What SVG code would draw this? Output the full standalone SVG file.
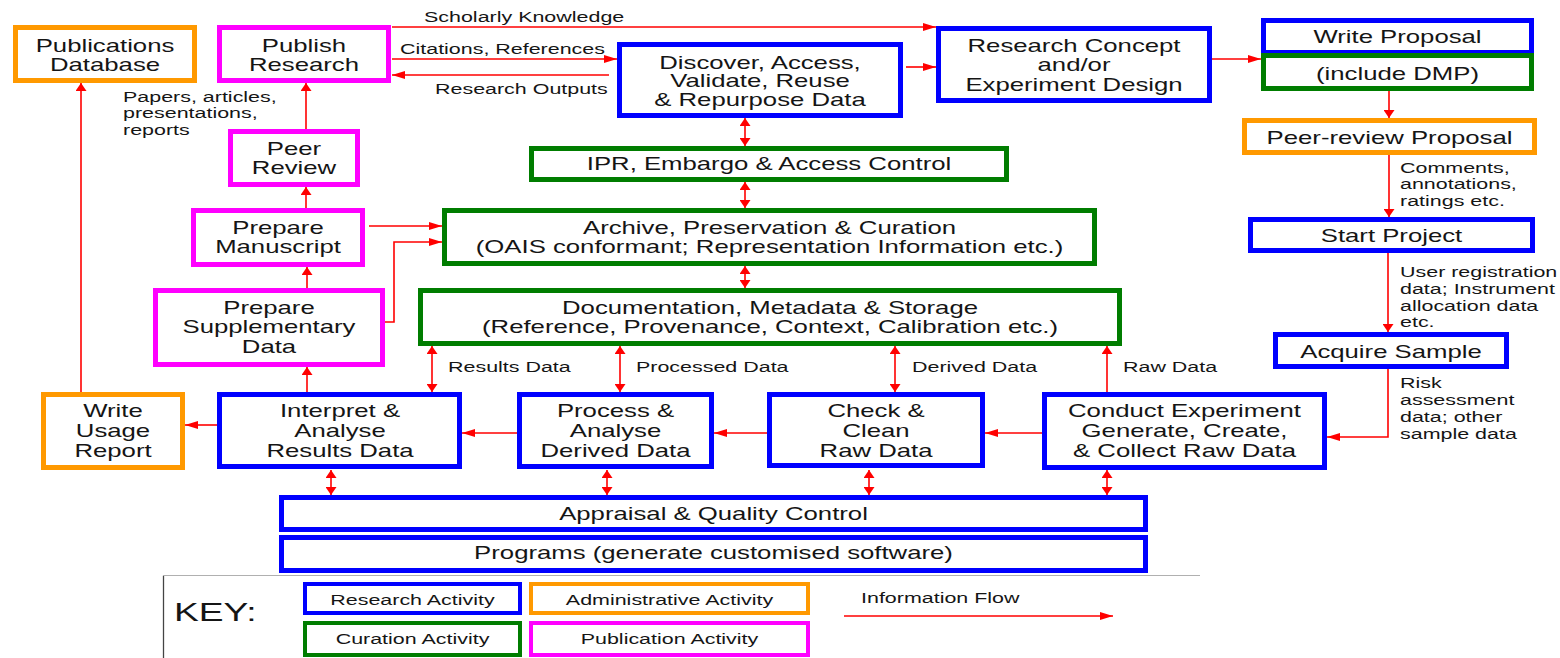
<svg xmlns="http://www.w3.org/2000/svg" width="1560" height="658" viewBox="0 0 1560 658">
<style>
.box{fill:#fff;stroke-width:5}
.kbox{fill:#fff;stroke-width:4}
.b{stroke:#0000ff}.g{stroke:#007d00}.m{stroke:#ff00ff}.o{stroke:#ff9900}
.t{font-family:"Liberation Sans",Arial,sans-serif;font-size:18px;fill:#151515;text-anchor:middle}
.l{font-family:"Liberation Sans",Arial,sans-serif;font-size:15px;fill:#151515}
.lc{font-family:"Liberation Sans",Arial,sans-serif;font-size:15px;fill:#151515;text-anchor:middle}
.c{fill:none;stroke:#ff0000;stroke-width:1.6}
.h{marker-end:url(#ah)}
.v{marker-end:url(#av)}
.hh{marker-start:url(#ah);marker-end:url(#ah)}
.vv{marker-start:url(#av);marker-end:url(#av)}
</style>
<defs>
<marker id="ah" viewBox="0 0 13 8" refX="13" refY="4" markerWidth="13" markerHeight="8" markerUnits="userSpaceOnUse" orient="auto-start-reverse"><path d="M0,0 L13,4 L0,8 z" fill="#ff0000"/></marker>
<marker id="av" viewBox="0 0 8 11" refX="8" refY="5.5" markerWidth="8" markerHeight="11" markerUnits="userSpaceOnUse" orient="auto-start-reverse"><path d="M0,0 L8,5.5 L0,11 z" fill="#ff0000"/></marker>
</defs>
<rect width="1560" height="658" fill="#fff"/>

<g id="connectors">
<path class="c h" d="M392,27 H936"/>
<path class="c h" d="M392,59 H617"/>
<path class="c h" d="M609,75 H392"/>
<path class="c h" d="M906,67 H936"/>
<path class="c h" d="M1212,59 H1261"/>
<path class="c v" d="M1389,91 V118"/>
<path class="c v" d="M1389,155 V217"/>
<path class="c v" d="M1388,253 V332"/>
<path class="c h" d="M1388,369 V437 H1327"/>
<path class="c v" d="M1107,392 V346"/>
<path class="c h" d="M1042,433 H985"/>
<path class="c h" d="M767,433 H714"/>
<path class="c h" d="M517,433 H462"/>
<path class="c h" d="M217,425 H185"/>
<path class="c v" d="M81,392 V83"/>
<path class="c v" d="M307,392 V367"/>
<path class="c v" d="M307,288 V267"/>
<path class="c v" d="M306,208 V187"/>
<path class="c v" d="M306,129 V83"/>
<path class="c h" d="M369,226 H442"/>
<path class="c h" d="M385,322 H394 V242 H442"/>
<path class="c vv" d="M745,118 V146"/>
<path class="c vv" d="M745,182 V208"/>
<path class="c vv" d="M745,266 V288"/>
<path class="c vv" d="M432,346 V392"/>
<path class="c vv" d="M620,346 V392"/>
<path class="c vv" d="M895,346 V392"/>
<path class="c vv" d="M331,470 V495"/>
<path class="c vv" d="M607,470 V495"/>
<path class="c vv" d="M869,470 V495"/>
<path class="c vv" d="M1107,470 V495"/>
</g>

<g id="labels">
<text class="l" transform="matrix(1.43 0 0 1 424 22)">Scholarly Knowledge</text>
<text class="l" transform="matrix(1.43 0 0 1 400 54)">Citations, References</text>
<text class="l" transform="matrix(1.43 0 0 1 435 94)">Research Outputs</text>
<text class="l" transform="matrix(1.43 0 0 1 123 102)"><tspan x="0" y="0">Papers, articles,</tspan><tspan x="0" y="16.5">presentations,</tspan><tspan x="0" y="33">reports</tspan></text>
<text class="l" transform="matrix(1.43 0 0 1 1400 173)"><tspan x="0" y="0">Comments,</tspan><tspan x="0" y="16.5">annotations,</tspan><tspan x="0" y="33">ratings etc.</tspan></text>
<text class="l" transform="matrix(1.43 0 0 1 1400 277)"><tspan x="0" y="0">User registration</tspan><tspan x="0" y="16.8">data; Instrument</tspan><tspan x="0" y="33.6">allocation data</tspan><tspan x="0" y="50.4">etc.</tspan></text>
<text class="l" transform="matrix(1.43 0 0 1 1400 388)"><tspan x="0" y="0">Risk</tspan><tspan x="0" y="17">assessment</tspan><tspan x="0" y="34">data; other</tspan><tspan x="0" y="51">sample data</tspan></text>
<text class="l" transform="matrix(1.43 0 0 1 448 372)">Results Data</text>
<text class="l" transform="matrix(1.43 0 0 1 636 372)">Processed Data</text>
<text class="l" transform="matrix(1.43 0 0 1 912 372)">Derived Data</text>
<text class="l" transform="matrix(1.43 0 0 1 1123 372)">Raw Data</text>
</g>

<g id="pubdb"><rect class="box o" x="15.5" y="27.5" width="179" height="53"/>
<text class="t" transform="matrix(1.43 0 0 1 105 51.5)"><tspan x="0" y="0">Publications</tspan><tspan x="0" y="20">Database</tspan></text></g>

<g id="publish"><rect class="box m" x="219.5" y="27.5" width="169" height="53"/>
<text class="t" transform="matrix(1.43 0 0 1 304 51.5)"><tspan x="0" y="0">Publish</tspan><tspan x="0" y="20">Research</tspan></text></g>

<g id="peer"><rect class="box m" x="230.5" y="131.5" width="127" height="53"/>
<text class="t" transform="matrix(1.43 0 0 1 294 154.5)"><tspan x="0" y="0">Peer</tspan><tspan x="0" y="20">Review</tspan></text></g>

<g id="manuscript"><rect class="box m" x="193.5" y="210.5" width="169" height="54"/>
<text class="t" transform="matrix(1.43 0 0 1 278 233.5)"><tspan x="0" y="0">Prepare</tspan><tspan x="0" y="20">Manuscript</tspan></text></g>

<g id="supplementary"><rect class="box m" x="155.5" y="290.5" width="227" height="74"/>
<text class="t" transform="matrix(1.43 0 0 1 269 313.5)"><tspan x="0" y="0">Prepare</tspan><tspan x="0" y="20">Supplementary</tspan><tspan x="0" y="40">Data</tspan></text></g>

<g id="writeusage"><rect class="box o" x="43.5" y="394.5" width="139" height="73"/>
<text class="t" transform="matrix(1.43 0 0 1 113 416.5)"><tspan x="0" y="0">Write</tspan><tspan x="0" y="20.5">Usage</tspan><tspan x="0" y="41">Report</tspan></text></g>

<g id="interpret"><rect class="box b" x="219.5" y="394.5" width="240" height="72"/>
<text class="t" transform="matrix(1.43 0 0 1 340 416.5)"><tspan x="0" y="0">Interpret &amp;</tspan><tspan x="0" y="20.5">Analyse</tspan><tspan x="0" y="41">Results Data</tspan></text></g>

<g id="process"><rect class="box b" x="519.5" y="394.5" width="192" height="72"/>
<text class="t" transform="matrix(1.43 0 0 1 615.5 416.5)"><tspan x="0" y="0">Process &amp;</tspan><tspan x="0" y="20.5">Analyse</tspan><tspan x="0" y="41">Derived Data</tspan></text></g>

<g id="check"><rect class="box b" x="769.5" y="394.5" width="213" height="71"/>
<text class="t" transform="matrix(1.43 0 0 1 876 416.5)"><tspan x="0" y="0">Check &amp;</tspan><tspan x="0" y="20.5">Clean</tspan><tspan x="0" y="41">Raw Data</tspan></text></g>

<g id="conduct"><rect class="box b" x="1044.5" y="394.5" width="280" height="73"/>
<text class="t" transform="matrix(1.43 0 0 1 1184.5 416.5)"><tspan x="0" y="0">Conduct Experiment</tspan><tspan x="0" y="20.5">Generate, Create,</tspan><tspan x="0" y="41">&amp; Collect Raw Data</tspan></text></g>

<g id="discover"><rect class="box b" x="619.5" y="44.5" width="281" height="71"/>
<text class="t" transform="matrix(1.43 0 0 1 760 68.5)"><tspan x="0" y="0">Discover, Access,</tspan><tspan x="0" y="19">Validate, Reuse</tspan><tspan x="0" y="38">&amp; Repurpose Data</tspan></text></g>

<g id="concept"><rect class="box b" x="938.5" y="28.5" width="271" height="72"/>
<text class="t" transform="matrix(1.43 0 0 1 1074 51.5)"><tspan x="0" y="0">Research Concept</tspan><tspan x="0" y="20">and/or</tspan><tspan x="0" y="40">Experiment Design</tspan></text></g>

<g id="writeproposal"><rect class="box b" x="1263.5" y="20.5" width="268" height="32"/>
<text class="t" transform="matrix(1.43 0 0 1 1397.5 42.5)">Write Proposal</text></g>

<g id="dmp"><rect class="box g" x="1263.5" y="55.5" width="268" height="33"/>
<text class="t" transform="matrix(1.43 0 0 1 1397.5 79.5)">(include DMP)</text></g>

<g id="peerreviewproposal"><rect class="box o" x="1244.5" y="120.5" width="290" height="32"/>
<text class="t" transform="matrix(1.43 0 0 1 1389.5 143.5)">Peer-review Proposal</text></g>

<g id="startproject"><rect class="box b" x="1250.5" y="219.5" width="282" height="31"/>
<text class="t" transform="matrix(1.43 0 0 1 1391.5 241.5)">Start Project</text></g>

<g id="acquire"><rect class="box b" x="1275.5" y="334.5" width="231" height="32"/>
<text class="t" transform="matrix(1.43 0 0 1 1391 357.5)">Acquire Sample</text></g>

<g id="ipr"><rect class="box g" x="531.5" y="148.5" width="475" height="31"/>
<text class="t" transform="matrix(1.43 0 0 1 769 169.5)">IPR, Embargo &amp; Access Control</text></g>

<g id="archive"><rect class="box g" x="444.5" y="210.5" width="650" height="53"/>
<text class="t" transform="matrix(1.43 0 0 1 769.5 233.5)"><tspan x="0" y="0">Archive, Preservation &amp; Curation</tspan><tspan x="0" y="20">(OAIS conformant; Representation Information etc.)</tspan></text></g>

<g id="documentation"><rect class="box g" x="420.5" y="290.5" width="699" height="53"/>
<text class="t" transform="matrix(1.43 0 0 1 770 313.5)"><tspan x="0" y="0">Documentation, Metadata &amp; Storage</tspan><tspan x="0" y="20">(Reference, Provenance, Context, Calibration etc.)</tspan></text></g>

<g id="appraisal"><rect class="box b" x="281.5" y="497.5" width="864" height="32"/>
<text class="t" transform="matrix(1.43 0 0 1 713.5 519.5)">Appraisal &amp; Quality Control</text></g>

<g id="programs"><rect class="box b" x="281.5" y="537.5" width="864" height="33"/>
<text class="t" transform="matrix(1.43 0 0 1 713.5 558.5)">Programs (generate customised software)</text></g>

<g id="key">
<path d="M163.5,658 V575.5 H1200" fill="none" stroke="#b0b0b0" stroke-width="1.2"/>
<path d="M163.5,658 V576" fill="none" stroke="#444" stroke-width="1.2"/>
<text class="l" style="font-size:26px" transform="matrix(1.43 0 0 1 174 621)">KEY:</text>
<rect class="kbox b" x="305" y="584" width="215" height="29"/>
<text class="lc" transform="matrix(1.43 0 0 1 412.5 605)">Research Activity</text>
<rect class="kbox o" x="531" y="584" width="277" height="29"/>
<text class="lc" transform="matrix(1.43 0 0 1 669.5 605)">Administrative Activity</text>
<rect class="kbox g" x="305" y="623" width="215" height="32"/>
<text class="lc" transform="matrix(1.43 0 0 1 412.5 644)">Curation Activity</text>
<rect class="kbox m" x="531" y="623" width="277" height="32"/>
<text class="lc" transform="matrix(1.43 0 0 1 669.5 644)">Publication Activity</text>
<text class="l" transform="matrix(1.43 0 0 1 861 603)">Information Flow</text>
<path class="c h" d="M844,616 H1113"/>
</g>
</svg>
